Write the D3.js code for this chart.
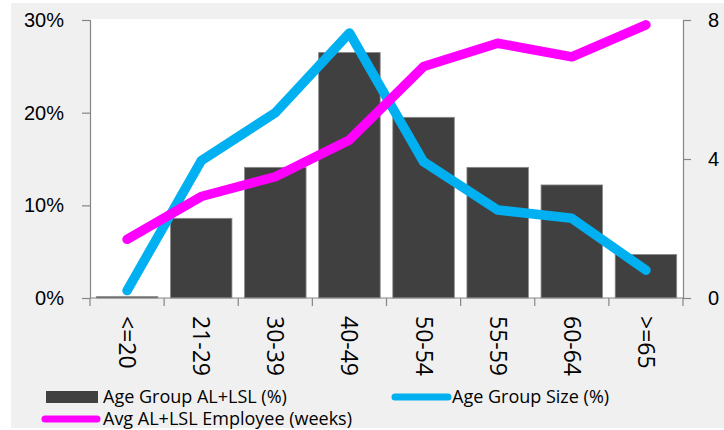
<!DOCTYPE html>
<html>
<head>
<meta charset="utf-8">
<script src="https://cdn.jsdelivr.net/npm/d3@7.9.0/dist/d3.min.js"></script>
<style>
  body { margin: 0; background: #fff; }
  svg { display: block; font-family: "Open Sans", "Noto Sans", sans-serif; }
</style>
</head>
<body>
<div id="chart"></div>
<script>
const ageGroups = ['<=20', '21-29', '30-39', '40-49', '50-54', '55-59', '60-64', '>=65'];
const leaveShare = [0.15, 8.6, 14.1, 26.5, 19.5, 14.1, 12.2, 4.7];     // Age Group AL+LSL (%)
const groupSize = [0.8, 14.8, 20.0, 28.6, 14.7, 9.5, 8.6, 3.0];        // Age Group Size (%)
const avgWeeks = [1.69, 2.92, 3.49, 4.55, 6.66, 7.33, 6.94, 7.86];     // Avg AL+LSL Employee (weeks)
const leftTicks = [0, 10, 20, 30];
const rightTicks = [0, 4, 8];

const width = 724, height = 430;
const margin = { top: 20, right: 41, bottom: 132, left: 90 };

const svg = d3.select('#chart').append('svg')
  .attr('width', width)
  .attr('height', height);

// grey chart background + white plot area
svg.append('rect').attr('x', 11).attr('y', 3)
  .attr('width', width - 11).attr('height', height - 5)
  .attr('fill', '#f0f0f0');

const plot = {
  left: margin.left,
  right: width - margin.right,
  top: margin.top,
  bottom: height - margin.bottom,
};

svg.append('rect')
  .attr('x', plot.left).attr('y', plot.top - 1)
  .attr('width', plot.right - plot.left).attr('height', plot.bottom - plot.top + 1)
  .attr('fill', '#fff');

const x = d3.scaleBand().domain(ageGroups).range([plot.left, plot.right]).paddingInner(0.17).paddingOuter(0.085);
const xLine = d3.scalePoint().domain(ageGroups).range([plot.left, plot.right]).padding(0.5);
const yLeft = d3.scaleLinear().domain([0, 30]).range([plot.bottom, plot.top]);
const yRight = d3.scaleLinear().domain([0, 8]).range([plot.bottom, plot.top]);

// bars
svg.append('g').selectAll('rect')
  .data(leaveShare)
  .join('rect')
  .attr('x', (d, i) => x(ageGroups[i]))
  .attr('y', d => yLeft(d))
  .attr('width', x.bandwidth())
  .attr('height', d => yLeft(0) - yLeft(d))
  .attr('fill', '#404040')
  .attr('stroke', '#8c8c8c')
  .attr('stroke-width', 0.8);

const axisColor = '#868686';

// left axis
const gl = svg.append('g')
  .attr('transform', `translate(${plot.left},0)`)
  .call(d3.axisLeft(yLeft).tickValues(leftTicks).tickSize(8).tickPadding(18).tickFormat(d => d + '%'));
gl.select('.domain').attr('stroke', axisColor).attr('stroke-width', 1.2);
gl.selectAll('.tick line').attr('stroke', axisColor).attr('stroke-width', 1.2);
gl.selectAll('text').attr('font-size', 20).attr('fill', '#000');

// right axis
const gr = svg.append('g')
  .attr('transform', `translate(${plot.right},0)`)
  .call(d3.axisRight(yRight).tickValues(rightTicks).tickSize(8).tickPadding(17));
gr.select('.domain').attr('stroke', axisColor).attr('stroke-width', 1.2);
gr.selectAll('.tick line').attr('stroke', axisColor).attr('stroke-width', 1.2);
gr.selectAll('text').attr('font-size', 20).attr('fill', '#000');

// bottom axis: boundary ticks
const step = (plot.right - plot.left) / ageGroups.length;
const gb = svg.append('g').attr('transform', `translate(0,${plot.bottom})`);
gb.append('line').attr('x1', plot.left).attr('x2', plot.right)
  .attr('stroke', axisColor).attr('stroke-width', 1.2);
gb.selectAll('.bt').data(d3.range(ageGroups.length + 1)).join('line')
  .attr('x1', i => plot.left + i * step).attr('x2', i => plot.left + i * step)
  .attr('y1', 0).attr('y2', 8)
  .attr('stroke', axisColor).attr('stroke-width', 1.2);
gb.selectAll('text').data(ageGroups).join('text')
  .attr('transform', d => `translate(${xLine(d)},18) rotate(90)`)
  .attr('dy', '0.35em')
  .attr('font-size', 23)
  .attr('fill', '#000')
  .text(d => d);

// lines
const blueLine = d3.line().x((d, i) => xLine(ageGroups[i])).y(d => yLeft(d));
const pinkLine = d3.line().x((d, i) => xLine(ageGroups[i])).y(d => yRight(d));

svg.append('path').datum(groupSize)
  .attr('d', blueLine)
  .attr('fill', 'none').attr('stroke', '#00b0f0').attr('stroke-width', 9.5)
  .attr('stroke-linecap', 'round').attr('stroke-linejoin', 'round');

svg.append('path').datum(avgWeeks)
  .attr('d', pinkLine)
  .attr('fill', 'none').attr('stroke', '#ff00ff').attr('stroke-width', 9.5)
  .attr('stroke-linecap', 'round').attr('stroke-linejoin', 'round');

// legend
const lg = svg.append('g').attr('font-size', 18).attr('fill', '#000');
lg.append('rect').attr('x', 46).attr('y', 391).attr('width', 52).attr('height', 12).attr('fill', '#404040');
lg.append('text').attr('x', 103).attr('y', 397).attr('dy', '0.35em').text('Age Group AL+LSL (%)');
lg.append('line').attr('x1', 395).attr('x2', 448).attr('y1', 397).attr('y2', 397)
  .attr('stroke', '#00b0f0').attr('stroke-width', 7).attr('stroke-linecap', 'round');
lg.append('text').attr('x', 452).attr('y', 397).attr('dy', '0.35em').text('Age Group Size (%)');
lg.append('line').attr('x1', 45).attr('x2', 97).attr('y1', 419).attr('y2', 419)
  .attr('stroke', '#ff00ff').attr('stroke-width', 7).attr('stroke-linecap', 'round');
lg.append('text').attr('x', 103).attr('y', 419).attr('dy', '0.35em').text('Avg AL+LSL Employee (weeks)');
</script>
</body>
</html>
